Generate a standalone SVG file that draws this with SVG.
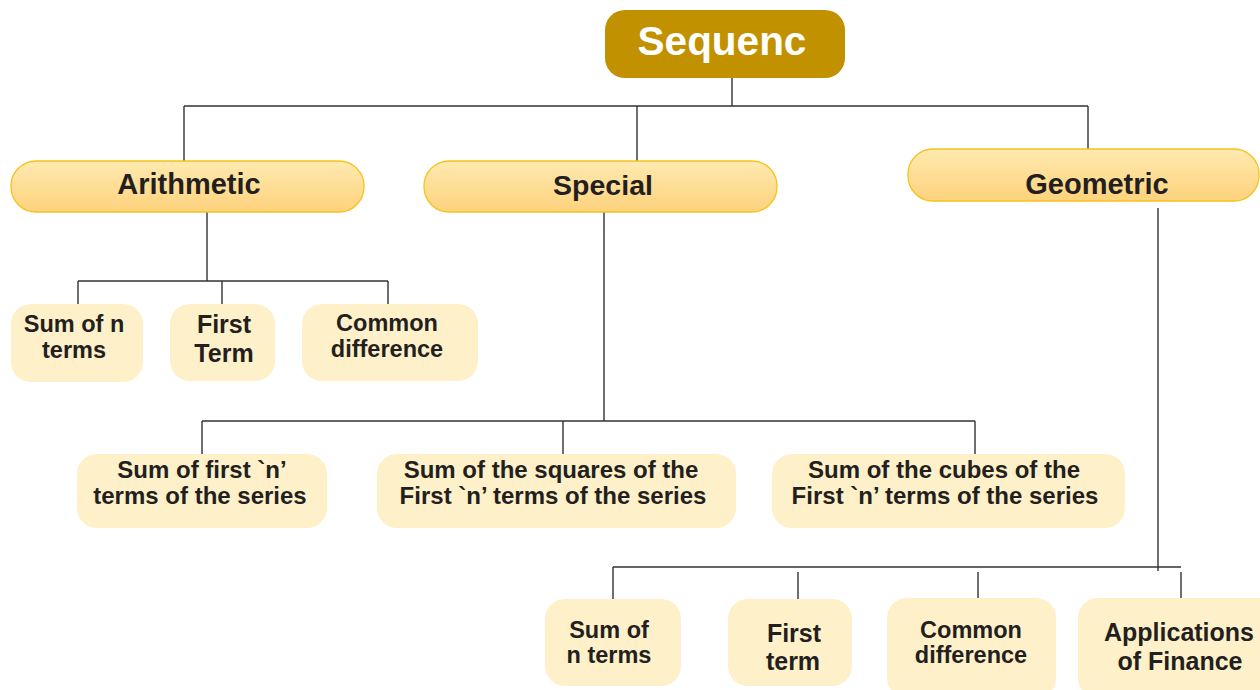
<svg xmlns="http://www.w3.org/2000/svg" width="1260" height="690" viewBox="0 0 1260 690">
<defs>
<linearGradient id="g2" x1="0" y1="0" x2="0" y2="1">
<stop offset="0" stop-color="#FFEAB0"/>
<stop offset="1" stop-color="#FDD27C"/>
</linearGradient>
</defs>
<style>
.t{font-family:"Liberation Sans",Arial,sans-serif;font-weight:bold;fill:#231F20;text-anchor:middle}
.l2{fill:url(#g2);stroke:#F7C21B;stroke-width:1.3}
.leaf{fill:#FEF0C9}
.c{stroke:#333;stroke-width:1.4;fill:none}
</style>
<rect width="1260" height="690" fill="#fff"/>
<g id="connectors">
<path class="c" d="M732 78V106M184 106H1088M184 106V161M637 106V161M1088 106V149"/>
<path class="c" d="M207 212V281M78 281H388M78 281V304M222 281V304M388 281V304"/>
<path class="c" d="M604 212V421M202 421H975M202 421V454M563 421V454M975 421V454"/>
<path class="c" d="M1158 208V571M613 567H1181M613 567V599M798 572V599M978 572V599M1181 572V599"/>
</g>
<g id="root">
<rect x="605" y="10" width="240" height="68" rx="20" fill="#C19100"/>
<text class="t" x="722" y="55" font-size="40.5" style="fill:#fff">Sequenc</text>
</g>
<g id="arithmetic">
<rect class="l2" x="11" y="161" width="353" height="51" rx="25"/>
<text class="t" x="189" y="194" font-size="29">Arithmetic</text>
</g>
<g id="special">
<rect class="l2" x="424" y="161" width="353" height="51" rx="25"/>
<text class="t" x="603" y="195" font-size="28.5">Special</text>
</g>
<g id="geometric">
<rect class="l2" x="908" y="149" width="351" height="52" rx="25"/>
<text class="t" x="1097" y="194" font-size="29">Geometric</text>
</g>
<g id="a-sum">
<rect class="leaf" x="11" y="304" width="132" height="78" rx="20"/>
<text class="t" x="74" y="332" font-size="23.5">Sum of n</text>
<text class="t" x="74" y="358" font-size="23.5">terms</text>
</g>
<g id="a-first">
<rect class="leaf" x="170" y="304" width="105" height="77" rx="20"/>
<text class="t" x="224" y="333" font-size="25">First</text>
<text class="t" x="224" y="362" font-size="25">Term</text>
</g>
<g id="a-common">
<rect class="leaf" x="302" y="304" width="176" height="77" rx="20"/>
<text class="t" x="387" y="331" font-size="23.5">Common</text>
<text class="t" x="387" y="357" font-size="23.5">difference</text>
</g>
<g id="s-sum">
<rect class="leaf" x="77" y="454" width="250" height="74" rx="20"/>
<text class="t" x="202" y="478" font-size="24">Sum of first `n’</text>
<text class="t" x="200" y="504" font-size="24">terms of the series</text>
</g>
<g id="s-squares">
<rect class="leaf" x="377" y="454" width="359" height="74" rx="20"/>
<text class="t" x="551" y="478" font-size="24">Sum of the squares of the</text>
<text class="t" x="553" y="504" font-size="24">First `n’ terms of the series</text>
</g>
<g id="s-cubes">
<rect class="leaf" x="772" y="454" width="353" height="74" rx="20"/>
<text class="t" x="944" y="478" font-size="24">Sum of the cubes of the</text>
<text class="t" x="945" y="504" font-size="24">First `n’ terms of the series</text>
</g>
<g id="g-sum">
<rect class="leaf" x="545" y="599" width="136" height="87" rx="20"/>
<text class="t" x="609" y="638" font-size="23.5">Sum of</text>
<text class="t" x="609" y="663" font-size="23.5">n terms</text>
</g>
<g id="g-first">
<rect class="leaf" x="728" y="599" width="124" height="87" rx="20"/>
<text class="t" x="794" y="642" font-size="25">First</text>
<text class="t" x="793" y="670" font-size="25">term</text>
</g>
<g id="g-common">
<rect class="leaf" x="887" y="598" width="169" height="100" rx="20"/>
<text class="t" x="971" y="638" font-size="23.5">Common</text>
<text class="t" x="971" y="663" font-size="23.5">difference</text>
</g>
<g id="g-finance">
<rect class="leaf" x="1078" y="598" width="200" height="100" rx="20"/>
<text class="t" x="1179" y="641" font-size="25">Applications</text>
<text class="t" x="1180" y="670" font-size="25">of Finance</text>
</g>
</svg>
